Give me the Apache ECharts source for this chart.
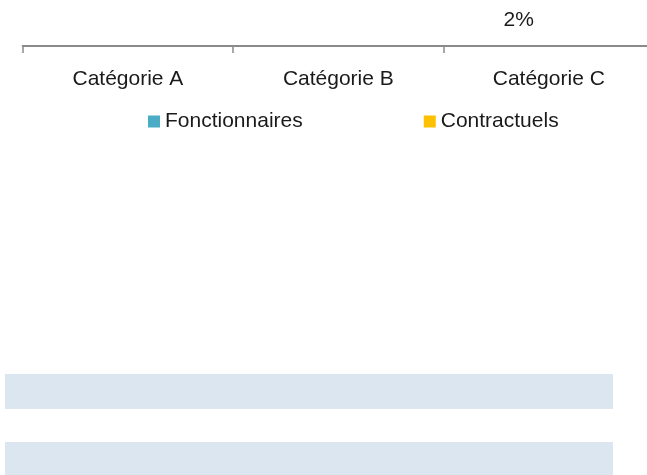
<!DOCTYPE html>
<html>
<head>
<meta charset="utf-8">
<script src="https://cdn.jsdelivr.net/npm/echarts@6/dist/echarts.min.js"></script>
<style>
  html, body { margin: 0; padding: 0; background: #fff; }
  #chart { width: 647px; height: 475px; }
</style>
</head>
<body>
<div id="chart"></div>
<script>
// catégories et séries (valeurs en %)
var categories = ['Catégorie A', 'Catégorie B', 'Catégorie C'];
var fonctionnaires = [null, null, 2];
var contractuels = [null, null, null];
var seriesNames = ['Fonctionnaires', 'Contractuels'];
var seriesColors = ['#4BACC6', '#FFC000'];

var myChart = echarts.init(document.getElementById('chart'));

var font = 'Liberation Sans';

var option = {
  animation: false,
  grid: {
    left: 22.7,
    right: -7,
    top: -454,
    bottom: 475 - 46,
    containLabel: false,
    outerBoundsMode: 'none'
  },
  legend: {
    data: [
      { name: seriesNames[0], itemStyle: { color: seriesColors[0] } },
      { name: seriesNames[1], itemStyle: { color: seriesColors[1] } }
    ],
    left: 143,
    top: 106,
    icon: 'rect',
    itemWidth: 12,
    itemHeight: 12,
    itemGap: 121,
    textStyle: { fontFamily: font, fontSize: 21, color: '#1a1a1a' }
  },
  xAxis: {
    type: 'category',
    data: categories,
    axisLine: { show: true, lineStyle: { color: '#8a8a8a', width: 2 } },
    axisTick: { show: true, alignWithLabel: false, length: 7, lineStyle: { color: '#8a8a8a', width: 1.5 } },
    axisLabel: { fontFamily: font, fontSize: 21, color: '#1a1a1a', margin: 23 }
  },
  yAxis: {
    type: 'value',
    min: 0,
    max: 100,
    show: false
  },
  series: [
    {
      name: seriesNames[0],
      type: 'bar',
      barGap: 0,
      barCategoryGap: '43%',
      data: fonctionnaires,
      itemStyle: { color: 'rgba(0,0,0,0)' },
      label: {
        show: true,
        position: 'top',
        distance: 5,
        formatter: '{c}%',
        fontFamily: font,
        fontSize: 21,
        color: '#1a1a1a'
      }
    },
    {
      name: seriesNames[1],
      type: 'bar',
      data: contractuels,
      itemStyle: { color: 'rgba(0,0,0,0)' }
    }
  ],
  // bandes bleu clair du tableau sous le graphique
  graphic: [
    { type: 'rect', shape: { x: 5, y: 374, width: 608, height: 35 }, style: { fill: '#DCE6F1' } },
    { type: 'rect', shape: { x: 5, y: 442, width: 608, height: 33 }, style: { fill: '#DCE6F1' } }
  ]
};

myChart.setOption(option);
</script>
</body>
</html>
